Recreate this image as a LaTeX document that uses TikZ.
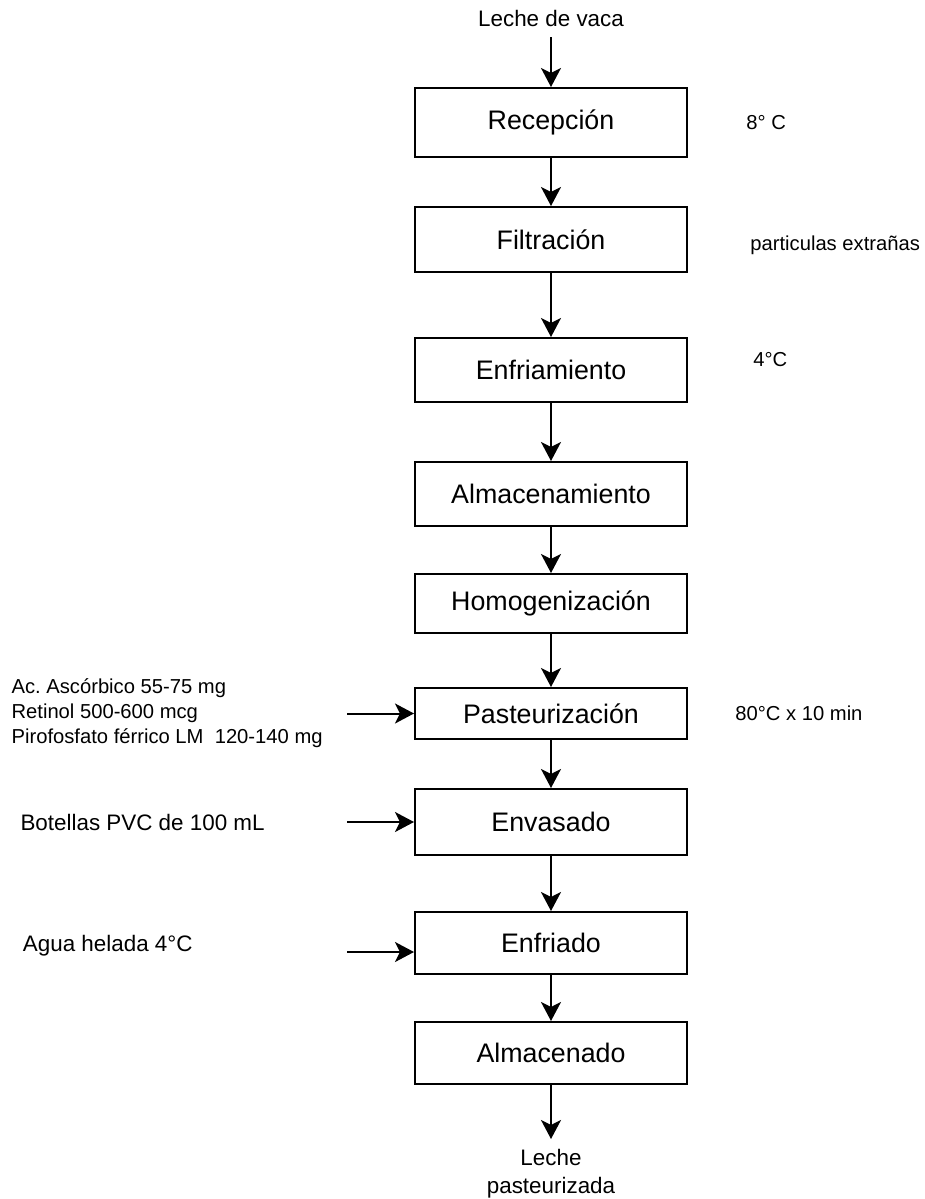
\documentclass[tikz,border=0pt]{standalone}
\usepackage{fontspec}
\setmainfont{Liberation Sans}
\usetikzlibrary{arrows.meta, positioning}

\begin{document}
\begin{tikzpicture}[
  node distance=25pt,
  stepbox/.style={rectangle, draw, line width=1pt, minimum width=136pt,
                  align=center, font=\fontsize{13.4}{16}\selectfont},
  tag/.style={align=center, inner xsep=0pt, inner ysep=5pt,
              font=\fontsize{11.2}{14}\selectfont},
  feed/.style={align=left, inner sep=0pt, font=\fontsize{11.2}{14}\selectfont},
  note/.style={align=left, inner sep=0pt, font=\fontsize{10.1}{12.5}\selectfont},
  arr/.style={-{Stealth[length=9.5pt, width=10pt, inset=2.5pt]}, line width=1pt},
]
\useasboundingbox (0,0) rectangle (462.5pt,-599.5pt);

% linea principal del proceso
\node[stepbox, minimum height=34.5pt] (recep) at (275.5pt,-61.25pt) {Recepción};
\node[stepbox, minimum height=32.5pt, below=24pt of recep]   (filtr)   {Filtración};
\node[stepbox, minimum height=32pt,   below=32pt of filtr]   (enfria)  {Enfriamiento};
\node[stepbox, minimum height=32pt,   below=29pt of enfria]  (almac)   {Almacenamiento};
\node[stepbox, minimum height=29.5pt, below=23pt of almac]   (homog)   {Homogenización};
\node[stepbox, minimum height=25.5pt, below=26.5pt of homog] (pasteur) {Pasteurización};
\node[stepbox, minimum height=33pt,   below=24pt of pasteur] (envas)   {Envasado};
\node[stepbox, minimum height=31pt,   below=27.5pt of envas] (enfriad) {Enfriado};
\node[stepbox, minimum height=31pt,   below=23pt of enfriad] (almacdo) {Almacenado};

\node[tag, above=25pt of recep]  (vaca) {Leche de vaca};
\node[tag, below=27pt of almacdo] (past) {Leche\\pasteurizada};

\draw[arr] (vaca) -- (recep);
\draw[arr] (recep) -- (filtr);   \draw[arr] (filtr) -- (enfria);
\draw[arr] (enfria) -- (almac);  \draw[arr] (almac) -- (homog);
\draw[arr] (homog) -- (pasteur); \draw[arr] (pasteur) -- (envas);
\draw[arr] (envas) -- (enfriad); \draw[arr] (enfriad) -- (almacdo);
\draw[arr] (almacdo) -- (past);

% condiciones a la derecha
\node[note, right=29pt of recep] (c8) {8° C};
\node[note, right=31pt of filtr, yshift=-2.75pt] (cpart) {particulas extrañas};
\node[note, right=32.5pt of enfria, yshift=5pt] (c4) {4°C};
\node[note, right=23.5pt of pasteur] (c80) {80°C x 10 min};

% entradas por la izquierda
\node[note, left=45.5pt of pasteur] (vitam)
  {Ac.\ Ascórbico 55-75 mg\\Retinol 500-600 mcg\\Pirofosfato férrico LM~ 120-140 mg};
\node[feed, left=74.5pt of envas] (botel) {Botellas PVC de 100 mL};
\node[feed, left=110.5pt of enfriad, yshift=-1.5pt] (agua) {Agua helada 4°C};

\coordinate[left=33.5pt of pasteur] (inpast);
\coordinate[left=33.5pt of envas] (inenv);
\coordinate[left=33.5pt of enfriad, yshift=-4.5pt] (inenf);

\draw[arr] (inpast) -- (pasteur);
\draw[arr] (inenv) -- (envas);
\draw[arr] (inenf) -- (inenf -| enfriad.west);
\end{tikzpicture}
\end{document}
